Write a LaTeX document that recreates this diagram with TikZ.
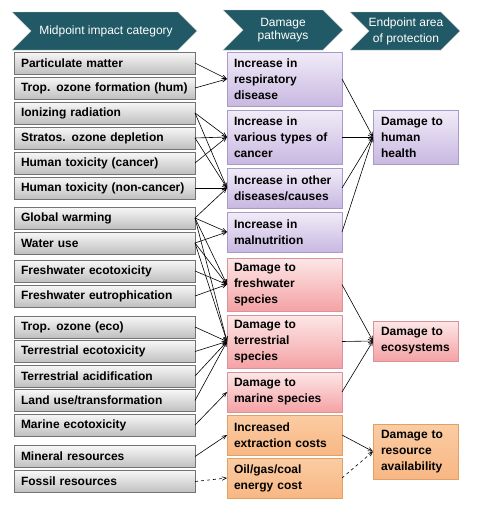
\documentclass[tikz,border=0pt]{standalone}
\usepackage{fontspec}
\setmainfont{Liberation Sans}
\usetikzlibrary{calc,arrows,positioning}
\definecolor{header}{HTML}{215A66}
\definecolor{humanline}{HTML}{A89AC9}
\definecolor{humantop}{HTML}{F1ECF8}
\definecolor{humanbot}{HTML}{C8B8E1}
\definecolor{ecoline}{HTML}{D8949A}
\definecolor{ecotop}{HTML}{FDE7E7}
\definecolor{ecobot}{HTML}{F4A2A5}
\definecolor{resline}{HTML}{E2A067}
\definecolor{restop}{HTML}{FBCCA3}
\definecolor{resbot}{HTML}{F8B784}

\begin{document}
\begin{tikzpicture}[x=1pt,y=-1pt]
\tikzstyle{impact} = [draw=black!55, top color=black!3, bottom color=black!25, text width=167pt, inner xsep=7pt, inner ysep=2pt, outer sep=0pt, minimum height=22pt, align=left, font=\bfseries\fontsize{12}{13}\selectfont]
\tikzstyle{pathway} = [text width=101pt, inner xsep=7pt, inner ysep=2pt, outer sep=0pt, align=left, font=\bfseries\fontsize{12}{16}\selectfont]
\tikzstyle{endpoint} = [pathway, text width=69pt, inner xsep=8pt]
\tikzstyle{human} = [draw=humanline, top color=humantop, bottom color=humanbot]
\tikzstyle{eco} = [draw=ecoline, top color=ecotop, bottom color=ecobot]
\tikzstyle{res} = [draw=resline, top color=restop, bottom color=resbot]
\tikzstyle{banner} = [fill=header, draw=black!20]
\tikzstyle{bannertext} = [text=white, align=center, font=\fontsize{12}{13}\selectfont]
\tikzstyle{link} = [->, >=angle 45, line width=0.6pt]
    \useasboundingbox (0,0) rectangle (485,506);
    \filldraw[banner] (12,12) -- (178,12) -- (197,31) -- (178,50) -- (12,50) -- (31,31) -- cycle;
    \filldraw[banner] (223,10) -- (323,10) -- (343,30) -- (323,50) -- (223,50) -- (243,30) -- cycle;
    \filldraw[banner] (350,12) -- (441,12) -- (460,31) -- (441,50) -- (350,50) -- (369,31) -- cycle;
    \node[bannertext] (hdrMid) at (106,31) {Midpoint impact category};
    \node[bannertext] (hdrPath) at (283,30) {Damage\\pathways};
    \node[bannertext, font=\fontsize{12}{16}\selectfont] (hdrEnd) at (406,31) {Endpoint area\\of protection};

    \node[impact, anchor=north west] (pm) at (14,52) {Particulate matter};
    \node[impact, below=3pt of pm] (tropoh) {Trop. ozone formation (hum)};
    \node[impact, below=3pt of tropoh] (ion) {Ionizing radiation};
    \node[impact, below=3pt of ion] (strat) {Stratos. ozone depletion};
    \node[impact, below=3pt of strat] (htc) {Human toxicity (cancer)};
    \node[impact, below=3pt of htc] (htnc) {Human toxicity (non-cancer)};
    \node[impact, below=8pt of htnc] (gw) {Global warming};
    \node[impact, below=3pt of gw] (water) {Water use};
    \node[impact, below=6pt of water] (fwtox) {Freshwater ecotoxicity};
    \node[impact, below=3pt of fwtox] (fweut) {Freshwater eutrophication};
    \node[impact, below=9pt of fweut] (tropoe) {Trop. ozone (eco)};
    \node[impact, below=2.5pt of tropoe] (terrtox) {Terrestrial ecotoxicity};
    \node[impact, below=2.5pt of terrtox] (acid) {Terrestrial acidification};
    \node[impact, below=2.5pt of acid] (landuse) {Land use/transformation};
    \node[impact, below=2.5pt of landuse] (marine) {Marine ecotoxicity};
    \node[impact, below=9.5pt of marine] (mineral) {Mineral resources};
    \node[impact, below=3pt of mineral] (fossil) {Fossil resources};

    \node[pathway, human, minimum height=54pt, anchor=north west] (resp) at (227,52) {Increase in\\respiratory\\disease};
    \node[pathway, human, minimum height=54pt, below=4pt of resp] (cancer) {Increase in\\various types of\\cancer};
    \node[pathway, human, minimum height=40pt, below=4pt of cancer] (other) {Increase in other\\diseases/causes};
    \node[pathway, human, minimum height=40pt, below=4pt of other] (maln) {Increase in\\malnutrition};
    \node[pathway, eco, minimum height=53pt, below=6pt of maln] (fresh) {Damage to\\freshwater\\species};
    \node[pathway, eco, minimum height=53pt, below=4pt of fresh] (terr) {Damage to\\terrestrial\\species};
    \node[pathway, eco, minimum height=40pt, below=4pt of terr] (marsp) {Damage to\\marine species};
    \node[pathway, res, minimum height=40pt, below=3pt of marsp] (extract) {Increased\\extraction costs};
    \node[pathway, res, minimum height=40pt, below=3pt of extract] (energy) {Oil/gas/coal\\energy cost};

    \node[endpoint, human, minimum height=54pt, anchor=north west] (hh) at (373,110) {Damage to\\human\\health};
    \node[endpoint, eco, minimum height=40pt, anchor=north west] (ecosys) at (373,321) {Damage to\\ecosystems};
    \node[endpoint, res, minimum height=55pt, anchor=north west] (resav) at (373,424) {Damage to\\resource\\availability};

    \draw[link] (pm.east) -- (resp.west);
    \draw[link] (tropoh.east) -- (resp.west);
    \draw[link] (ion.east) -- (cancer.west);
    \draw[link] (ion.east) -- (other.west);
    \draw[link] (strat.east) -- (cancer.west);
    \draw[link] (strat.east) -- (other.west);
    \draw[link] (htc.east) -- (cancer.west);
    \draw[link] (htnc.east) -- (other.west);
    \draw[link] (gw.east) -- (other.west);
    \draw[link] (gw.east) -- (maln.west);
    \draw[link] (gw.east) -- (fresh.west);
    \draw[link] (gw.east) -- (terr.west);
    \draw[link] (water.east) -- (maln.west);
    \draw[link] (water.east) -- (fresh.west);
    \draw[link] (water.east) -- (terr.west);
    \draw[link] (fwtox.east) -- (fresh.west);
    \draw[link] (fweut.east) -- (fresh.west);
    \draw[link] (tropoe.east) -- (terr.west);
    \draw[link] (terrtox.east) -- (terr.west);
    \draw[link] (acid.east) -- (terr.west);
    \draw[link] (landuse.east) -- (terr.west);
    \draw[link] (marine.east) -- (marsp.west);
    \draw[link] (mineral.east) -- (extract.west);
    \draw[link, dashed] (fossil.east) -- (energy.west);
    \draw[link] (resp.east) -- (hh.west);
    \draw[link] (cancer.east) -- (hh.west);
    \draw[link] (other.east) -- (hh.west);
    \draw[link] (maln.east) -- (hh.west);
    \draw[link] (fresh.east) -- (ecosys.west);
    \draw[link] (terr.east) -- (ecosys.west);
    \draw[link] (marsp.east) -- (ecosys.west);
    \draw[link] (extract.east) -- (resav.west);
    \draw[link, dashed] (energy.east) -- (resav.west);
\end{tikzpicture}
\end{document}
